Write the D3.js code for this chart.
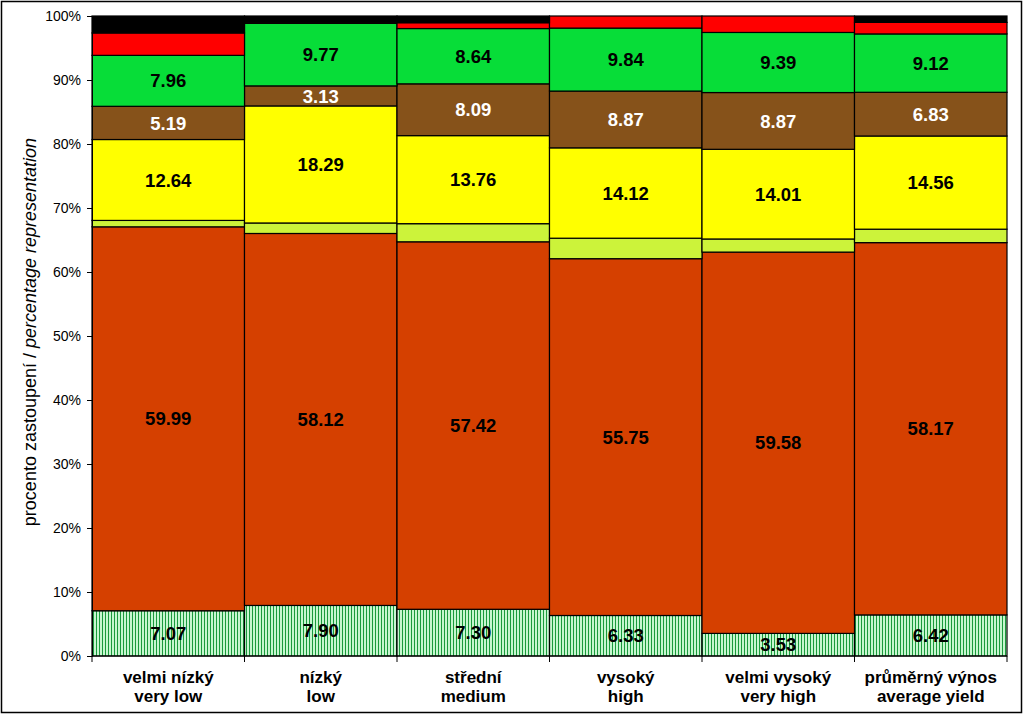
<!DOCTYPE html>
<html><head><meta charset="utf-8">
<script src="https://cdn.jsdelivr.net/npm/d3@7"></script>
<style>body{margin:0;background:#fff}svg{display:block}</style>
</head><body>
<svg id="c" width="1024" height="715"></svg>
<script>
const catsCz = ["velmi nízký","nízký","střední","vysoký","velmi vysoký","průměrný výnos"];
const catsEn = ["very low","low","medium","high","very high","average yield"];
const sHatch  = [7.07, 7.90, 7.30, 6.33, 3.53, 6.42];
const sOrange = [59.99, 58.12, 57.42, 55.75, 59.58, 58.17];
const sLight  = [1.00, 1.64, 2.83, 3.20, 2.05, 2.10];
const sYellow = [12.64, 18.29, 13.76, 14.12, 14.01, 14.56];
const sBrown  = [5.19, 3.13, 8.09, 8.87, 8.87, 6.83];
const sGreen  = [7.96, 9.77, 8.64, 9.84, 9.39, 9.12];
const sRed    = [3.50, 0.20, 0.91, 1.89, 2.57, 1.80];
const sBlack  = [2.65, 0.95, 1.05, 0.00, 0.00, 1.00];
const yTicks = [0,10,20,30,40,50,60,70,80,90,100];

const keys = ["hatch","orange","light","yellow","brown","green","red","black"];
const seriesVals = {hatch:sHatch, orange:sOrange, light:sLight, yellow:sYellow, brown:sBrown, green:sGreen, red:sRed, black:sBlack};
const fills = {hatch:"url(#hatch)", orange:"#d54000", light:"#ccf33a", yellow:"#ffff00", brown:"#86521a", green:"#07dd38", red:"#ff0000", black:"#000000"};
const labeled = {hatch:"#000", orange:"#000", yellow:"#000", brown:"#fff", green:"#000"};

const rows = catsCz.map((c,i)=>{const r={cat:c}; keys.forEach(k=>r[k]=seriesVals[k][i]); return r;});
const stack = d3.stack().keys(keys)(rows);

const svg = d3.select("#c");
const defs = svg.append("defs");
const pat = defs.append("pattern").attr("id","hatch").attr("patternUnits","userSpaceOnUse").attr("width",3).attr("height",6);
pat.append("rect").attr("width",3).attr("height",6).attr("fill","#c6f6cf");
pat.append("rect").attr("x",0).attr("width",1).attr("height",6).attr("fill","#1a9a3c");

svg.append("rect").attr("x",1.5).attr("y",1.5).attr("width",1020).attr("height",711).attr("fill","#fff").attr("stroke","#000").attr("stroke-width",1.5);

const L=92, R=1007, T=16, B=656;
const F="Liberation Sans, Arial, sans-serif";
const x = d3.scaleBand().domain(catsCz).range([L,R]).padding(0);
const y = d3.scaleLinear().domain([0,100]).range([B,T]);

const g = svg.append("g");
stack.forEach(s=>{
  g.selectAll(null).data(s.filter(d=>d[1]-d[0]>0)).enter().append("rect")
    .attr("x",d=>x(d.data.cat)).attr("width",x.bandwidth())
    .attr("y",d=>y(d[1])).attr("height",d=>y(d[0])-y(d[1]))
    .attr("fill",fills[s.key]).attr("stroke","#000").attr("stroke-width",1.2);
});
stack.forEach(s=>{
  if(!labeled[s.key]) return;
  g.selectAll(null).data(s).enter().append("text")
    .attr("x",d=>x(d.data.cat)+x.bandwidth()/2)
    .attr("y",d=>y((d[0]+d[1])/2))
    .attr("dy","0.36em").attr("text-anchor","middle")
    .attr("font-family",F).attr("font-weight","bold").attr("font-size",18.5)
    .attr("fill",labeled[s.key]).text(d=>(d[1]-d[0]).toFixed(2));
});

const ya = svg.append("g").attr("transform",`translate(${L},0)`)
  .call(d3.axisLeft(y).tickValues(yTicks).tickSize(5).tickPadding(6).tickFormat(d=>d+"%"));
ya.selectAll("text").attr("font-family",F).attr("font-size",14).attr("fill","#000");
ya.selectAll("line,path").attr("stroke","#000");

const xa = svg.append("g").attr("transform",`translate(0,${B})`);
xa.append("line").attr("x1",L).attr("x2",R).attr("stroke","#000");
const bounds = catsCz.map(c=>x(c)).concat([R]);
xa.selectAll(null).data(bounds).enter().append("line")
  .attr("x1",d=>d).attr("x2",d=>d).attr("y1",0).attr("y2",6).attr("stroke","#000");
const xl = xa.selectAll(null).data(catsCz).enter().append("text")
  .attr("x",d=>x(d)+x.bandwidth()/2).attr("text-anchor","middle")
  .attr("font-family",F).attr("font-weight","bold").attr("font-size",17).attr("fill","#000");
xl.append("tspan").attr("x",d=>x(d)+x.bandwidth()/2).attr("y",27).text(d=>d);
xl.append("tspan").attr("x",d=>x(d)+x.bandwidth()/2).attr("y",46).text((d,i)=>catsEn[i]);

const yt = svg.append("text").attr("transform","translate(36,332) rotate(-90)").attr("text-anchor","middle")
  .attr("font-family",F).attr("font-size",18).attr("fill","#000");
yt.append("tspan").text("procento zastoupení / ");
yt.append("tspan").attr("font-style","italic").text("percentage representation");
</script>
</body></html>
